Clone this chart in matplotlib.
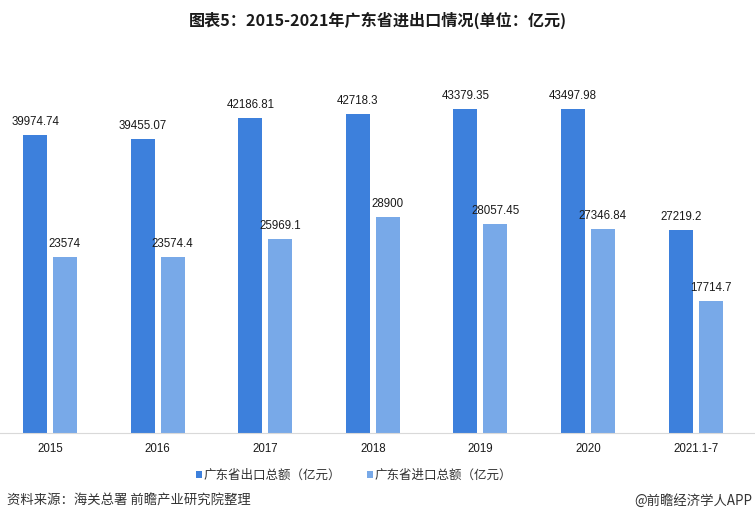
import numpy as np
import matplotlib
matplotlib.use("Agg")
from matplotlib import pyplot as plt

plt.rcParams['font.family'] = ['Noto Sans CJK SC', 'DejaVu Sans']

# data (unit: 亿元)
years = ["2015", "2016", "2017", "2018", "2019", "2020", "2021.1-7"]
exports = [39974.74, 39455.07, 42186.81, 42718.3, 43379.35, 43497.98, 27219.2]
imports = [23574, 23574.4, 25969.1, 28900, 28057.45, 27346.84, 17714.7]
export_labels = ["39974.74", "39455.07", "42186.81", "42718.3", "43379.35", "43497.98", "27219.2"]
import_labels = ["23574", "23574.4", "25969.1", "28900", "28057.45", "27346.84", "17714.7"]

c_exp = "#3d80dc"
c_imp = "#78a9e8"

fig = plt.figure(figsize=(7.55, 5.21), dpi=100)
ax = fig.add_axes([0, 1 - 433 / 521, 1, (433 - 60) / 521])

x = np.arange(len(years))
w = 0.223
off = 0.139
b1 = ax.bar(x - off, exports, w, color=c_exp, label="广东省出口总额（亿元）")
b2 = ax.bar(x + off, imports, w, color=c_imp, label="广东省进口总额（亿元）")

# value labels above each bar
for bars, labs in ((b1, export_labels), (b2, import_labels)):
    for r, t in zip(bars, labs):
        ax.annotate(t, (r.get_x() + r.get_width() / 2, r.get_height()),
                    xytext=(0, 5), textcoords="offset points", ha="center", va="bottom",
                    fontsize=8.3, family="Liberation Sans", color="#1a1a1a")

ax.set_xlim(-0.465, 6.552)
ax.set_ylim(0, 50000)
ax.set_xticks(x)
ax.set_xticklabels(years, fontsize=8.3, family="Liberation Sans", color="#1a1a1a")
ax.tick_params(axis="x", length=0, pad=7)
ax.set_yticks([])
for s in ("left", "right", "top"):
    ax.spines[s].set_visible(False)
ax.spines["bottom"].set_color("#d9d9d9")
ax.patch.set_alpha(0)

fig.text(0.5, 1 - 20 / 521, "图表5：2015-2021年广东省进出口情况(单位：亿元)",
         ha="center", va="center", fontsize=11.6, fontweight="bold", color="#1a1a1a")

fig.legend(handles=[b1, b2], loc="center", bbox_to_anchor=(354 / 755, 1 - 475 / 521), ncol=2,
           frameon=False, fontsize=9, handlelength=0.5, handleheight=0.5,
           handletextpad=0.15, columnspacing=2.0, labelcolor="#333333")

fig.text(7 / 755, 1 - 501 / 521, "资料来源：海关总署 前瞻产业研究院整理",
         ha="left", va="center", fontsize=9.6, color="#333333")
fig.text(752 / 755, 1 - 501 / 521, "@前瞻经济学人APP",
         ha="right", va="center", fontsize=9.6, color="#333333")

fig.savefig("out.png", dpi=100)
